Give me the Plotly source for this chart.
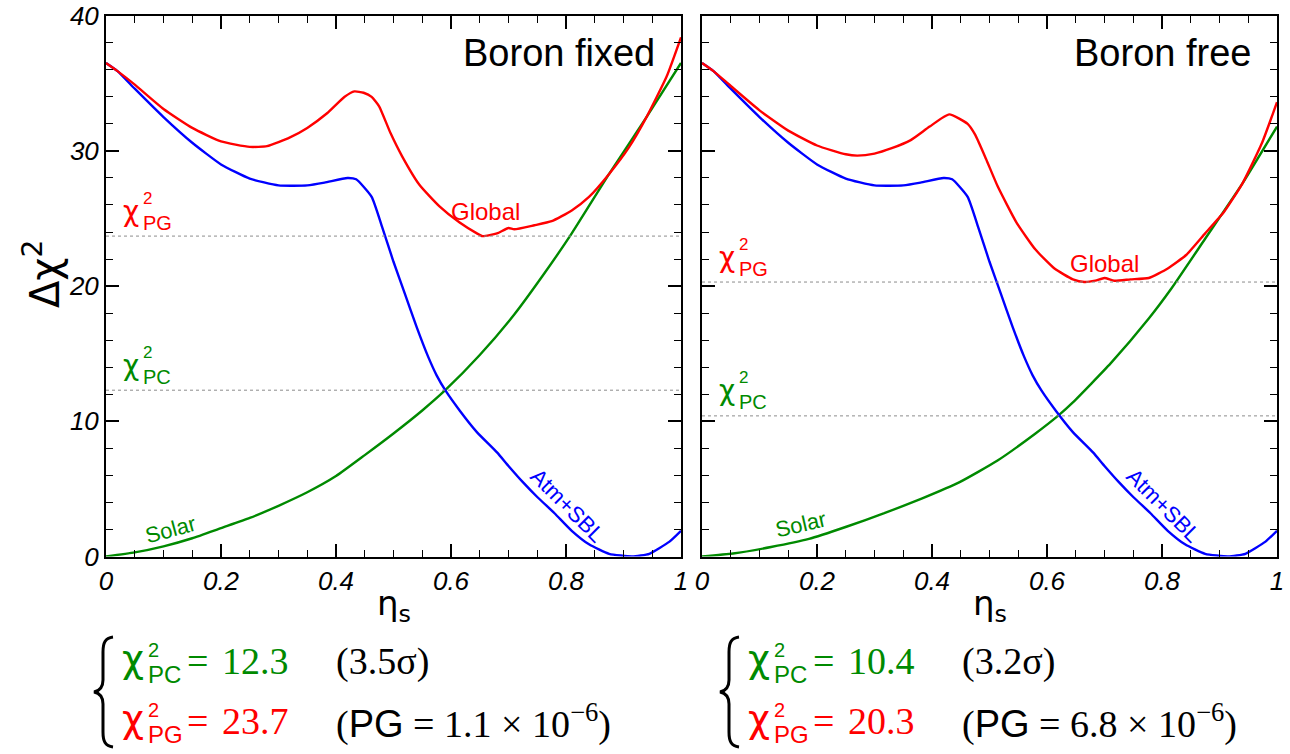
import plotly.graph_objects as go

W, H = 1290, 754

# ---- data -------------------------------------------------------------
# Atm+SBL (identical in both panels)
eta_atm = [0, 0.02, 0.05, 0.10, 0.15, 0.20, 0.25, 0.30, 0.35, 0.38, 0.42, 0.435,
           0.462, 0.48, 0.50, 0.52, 0.54, 0.56, 0.575, 0.59, 0.615, 0.645, 0.68,
           0.70, 0.725, 0.75, 0.78, 0.81, 0.84, 0.875, 0.915, 0.945, 0.98, 1.0]
chi_atm = [36.5, 35.9, 34.6, 32.5, 30.6, 29.0, 27.95, 27.45, 27.45, 27.65, 28.0, 27.9,
           26.6, 24.4, 21.8, 19.4, 17.0, 14.8, 13.4, 12.3, 10.8, 9.2, 7.7,
           6.7, 5.5, 4.4, 3.2, 1.9, 0.9, 0.2, 0.0, 0.2, 1.1, 1.9]

# Global, boron fixed
eta_glob_fixed = [0, 0.02, 0.05, 0.10, 0.15, 0.20, 0.25, 0.28, 0.32, 0.35, 0.385, 0.415,
                  0.432, 0.448, 0.462, 0.475, 0.495, 0.515, 0.545, 0.58, 0.615, 0.645,
                  0.655, 0.68, 0.70, 0.71, 0.745, 0.775, 0.81, 0.84, 0.875, 0.91,
                  0.94, 0.975, 1.0]
chi_glob_fixed = [36.5, 35.9, 34.9, 33.1, 31.7, 30.7, 30.3, 30.35, 31.0, 31.7, 32.8, 34.0,
                  34.4, 34.3, 34.0, 33.3, 31.3, 29.6, 27.5, 25.9, 24.7, 23.9,
                  23.7, 23.9, 24.3, 24.2, 24.5, 24.8, 25.6, 26.6, 28.3, 30.3,
                  32.5, 35.5, 38.4]

# Global, boron free
eta_glob_free = [0, 0.02, 0.05, 0.10, 0.15, 0.20, 0.25, 0.27, 0.30, 0.33, 0.363, 0.396,
                 0.43, 0.462, 0.475, 0.494, 0.514, 0.547, 0.58, 0.613, 0.645, 0.665,
                 0.684, 0.70, 0.717, 0.745, 0.777, 0.81, 0.842, 0.875, 0.908, 0.94,
                 0.974, 1.0]
chi_glob_free = [36.5, 35.9, 34.8, 33.0, 31.5, 30.4, 29.75, 29.65, 29.8, 30.2, 30.8, 31.8,
                 32.7, 32.0, 31.2, 29.4, 27.4, 24.7, 22.7, 21.3, 20.5, 20.3,
                 20.4, 20.6, 20.4, 20.5, 20.6, 21.3, 22.3, 23.9, 25.5, 27.6,
                 30.6, 33.6]

# Solar, boron fixed
eta_sol_fixed = [0, 0.05, 0.10, 0.15, 0.20, 0.25, 0.30, 0.35, 0.40, 0.45, 0.50, 0.55,
                 0.59, 0.65, 0.71, 0.76, 0.81, 0.875, 0.94, 1.0]
chi_sol_fixed = [0, 0.3, 0.75, 1.35, 2.1, 2.85, 3.75, 4.75, 5.95, 7.5, 9.1, 10.8,
                 12.3, 14.9, 17.9, 20.8, 23.9, 28.3, 32.5, 36.5]

# Solar, boron free
eta_sol_free = [0, 0.054, 0.12, 0.186, 0.251, 0.317, 0.383, 0.448, 0.514, 0.58, 0.619,
                0.645, 0.711, 0.777, 0.816, 0.875, 0.94, 1.0]
chi_sol_free = [0, 0.22, 0.7, 1.3, 2.2, 3.2, 4.3, 5.5, 7.1, 9.1, 10.4,
                11.4, 14.3, 17.6, 19.8, 23.5, 27.6, 31.8]

panel_titles = ["Boron fixed", "Boron free"]
chi2_pc = [12.3, 10.4]
chi2_pg = [23.7, 20.3]
n_sigma = [3.5, 3.2]
pg_mant = [1.1, 6.8]
pg_exp = [-6, -6]

x_ticks = [0, 0.2, 0.4, 0.6, 0.8, 1]
x_ticktext = ["0", "0.2", "0.4", "0.6", "0.8", "1"]
y_ticks = [0, 10, 20, 30, 40]

# ---- style ------------------------------------------------------------
RED, GREEN, BLUE = "#ff0000", "#008a00", "#0000ff"
SANS = "Liberation Sans, Arial, sans-serif"
SERIF = "Liberation Serif, Times New Roman, serif"
GREEK = "DejaVu Sans, sans-serif"
LW = 2.4

# panel extents in pixels
PX = [(106, 681), (702, 1277)]
PY_TOP, PY_BOT = 15.7, 556.5


def px2paper(x, y):
    return x / W, 1 - y / H


fig = go.Figure()

panels = [
    (eta_glob_fixed, chi_glob_fixed, eta_sol_fixed, chi_sol_fixed),
    (eta_glob_free, chi_glob_free, eta_sol_free, chi_sol_free),
]

for i, (eg, cg, es, cs) in enumerate(panels):
    xa = "x" if i == 0 else "x2"
    ya = "y" if i == 0 else "y2"
    common = dict(xaxis=xa, yaxis=ya, mode="lines", showlegend=False,
                  hoverinfo="skip", line_shape="spline")
    fig.add_trace(go.Scatter(x=es, y=cs, line=dict(color=GREEN, width=LW, smoothing=0.5), **common))
    fig.add_trace(go.Scatter(x=eta_atm, y=chi_atm, line=dict(color=BLUE, width=LW, smoothing=0.5), **common))
    fig.add_trace(go.Scatter(x=eg, y=cg, line=dict(color=RED, width=LW, smoothing=0.5), **common))

axis_common = dict(
    showline=True, linecolor="black", linewidth=2, mirror="allticks",
    ticks="inside", tickcolor="black", tickwidth=1.5, ticklen=13,
    showgrid=False, zeroline=False,
    tickfont=dict(family=SANS, size=26, color="black", style="italic"),
)

for i in range(2):
    sfx = "" if i == 0 else "2"
    x0p, _ = px2paper(PX[i][0], 0)
    x1p, _ = px2paper(PX[i][1], 0)
    _, ytop = px2paper(0, PY_TOP)
    _, ybot = px2paper(0, PY_BOT)
    fig.layout["xaxis" + sfx] = dict(
        axis_common, domain=[x0p, x1p], range=[0, 1], anchor="y" + sfx,
        tickmode="array", tickvals=x_ticks, ticktext=x_ticktext,
        minor=dict(ticks="inside", ticklen=7, tickwidth=1.2, tickcolor="black",
                   tickmode="array",
                   tickvals=[k * 0.05 for k in range(21) if k % 4 != 0]),
    )
    fig.layout["yaxis" + sfx] = dict(
        axis_common, domain=[ybot, ytop], range=[0, 40], anchor="x" + sfx,
        tickmode="array", tickvals=y_ticks, showticklabels=(i == 0),
        minor=dict(ticks="inside", ticklen=7, tickwidth=1.2, tickcolor="black",
                   tickmode="array", tickvals=[k for k in range(0, 41, 2) if k % 10 != 0]),
    )

annotations = []
shapes = []


def txt(x, y, text, size, color="black", family=SANS, xref="paper", yref="paper",
        xanchor="left", yanchor="middle", angle=0, yshift=0, xshift=0, align="center"):
    annotations.append(dict(x=x, y=y, xref=xref, yref=yref, text=text, showarrow=False,
                            xanchor=xanchor, yanchor=yanchor, textangle=angle,
                            yshift=yshift, xshift=xshift, align=align, borderpad=0,
                            font=dict(family=family, size=size, color=color)))


def ptxt(xpx, ypx, text, size, **kw):
    xp, yp = px2paper(xpx, ypx)
    txt(xp, yp, text, size, **kw)


def stack(sup_size, sub_size, sub):
    """superscript 2 stacked over a subscript label"""
    return (f'<span style="font-size:{sup_size}px">2</span><br>'
            f'<span style="font-size:{sub_size}px">{sub}</span>')


for i in range(2):
    sfx = "" if i == 0 else "2"
    xr, yr = "x" + sfx, "y" + sfx
    # horizontal reference lines at the PC / PG values
    for val in (chi2_pc[i], chi2_pg[i]):
        shapes.append(dict(type="line", xref=xr + " domain", yref=yr, x0=0, x1=1,
                           y0=val, y1=val, line=dict(color="#8c8c8c", width=1, dash="dot")))
    # chi^2 labels above the reference lines
    for val, sub, col in ((chi2_pg[i], "PG", RED), (chi2_pc[i], "PC", GREEN)):
        txt(0.060, val, "χ", 28, color=col, family=GREEK, xref=xr, yref=yr,
            xanchor="right", yshift=25, xshift=-1)
        txt(0.060, val, stack(17, 20, sub), 20, color=col, xref=xr, yref=yr,
            xanchor="left", yshift=25, xshift=1, align="left")
    # panel title
    txt(0.956, 38.9, panel_titles[i], 38, xref=xr, yref=yr, xanchor="right", yanchor="top")
    # x-axis title
    txt(0.5, 0, "η<sub>s</sub>", 34, family=GREEK, xref=xr + " domain", yref=yr,
        xanchor="center", yanchor="top", yshift=-26)

# curve labels
txt(0.66, 25.5, "Global", 24, RED, xref="x", yref="y", xanchor="center")
txt(0.70, 21.7, "Global", 24, RED, xref="x2", yref="y2", xanchor="center")
txt(0.113, 2.0, "Solar", 22, GREEN, xref="x", yref="y", xanchor="center", angle=-15)
txt(0.171, 2.4, "Solar", 22, GREEN, xref="x2", yref="y2", xanchor="center", angle=-13)
txt(0.803, 3.8, "Atm+SBL", 22, BLUE, xref="x", yref="y", xanchor="center", angle=45)
txt(0.803, 3.8, "Atm+SBL", 22, BLUE, xref="x2", yref="y2", xanchor="center", angle=45)

# y-axis title
ptxt(42, 274, "Δχ<sup>2</sup>", 40, family=GREEK, xanchor="center", angle=-90)

# summary formulas under each panel
for i in range(2):
    dx = 0 if i == 0 else 626
    row1, row2 = 661, 721
    for row, sub, col, val in ((row1, "PC", GREEN, chi2_pc[i]), (row2, "PG", RED, chi2_pg[i])):
        ptxt(145 + dx, row - 2, "χ", 38, color=col, family=GREEK, xanchor="right")
        ptxt(147 + dx, row + 2, stack(20, 24, sub), 20, color=col, align="left")
        ptxt(186 + dx, row, "=", 38, color=col, family=SERIF)
        ptxt(221 + dx, row, f"{val:.1f}", 38, color=col, family=SERIF)
    ptxt(335 + dx, row1, f"({n_sigma[i]:.1f}σ)", 38, family=SERIF)
    ptxt(335 + dx, row2,
         f"(<span style=\"font-family:{SANS}\">PG</span> = {pg_mant[i]:.1f} × 10"
         f"<sup>−{abs(pg_exp[i])}</sup>)", 38, family=SERIF)

    # curly brace drawn as a path
    pts = [(113, 637), (105, 638), (103, 643), (103, 652), (103, 680), (103, 688),
           (99, 691), (94, 692), (99, 693), (103, 696), (103, 704), (103, 732),
           (103, 741), (105, 746), (113, 747)]
    pp = [px2paper(x + dx, y) for x, y in pts]
    f = lambda p: f"{p[0]:.5f},{p[1]:.5f}"
    path = (f"M {f(pp[0])} C {f(pp[1])} {f(pp[2])} {f(pp[3])} L {f(pp[4])} "
            f"C {f(pp[5])} {f(pp[6])} {f(pp[7])} C {f(pp[8])} {f(pp[9])} {f(pp[10])} "
            f"L {f(pp[11])} C {f(pp[12])} {f(pp[13])} {f(pp[14])}")
    shapes.append(dict(type="path", xref="paper", yref="paper", path=path,
                       line=dict(color="black", width=3)))

fig.update_layout(
    width=W, height=H, template="none",
    margin=dict(l=0, r=0, t=0, b=0),
    paper_bgcolor="white", plot_bgcolor="white",
    annotations=annotations, shapes=shapes,
)

fig.write_html("out.html")
